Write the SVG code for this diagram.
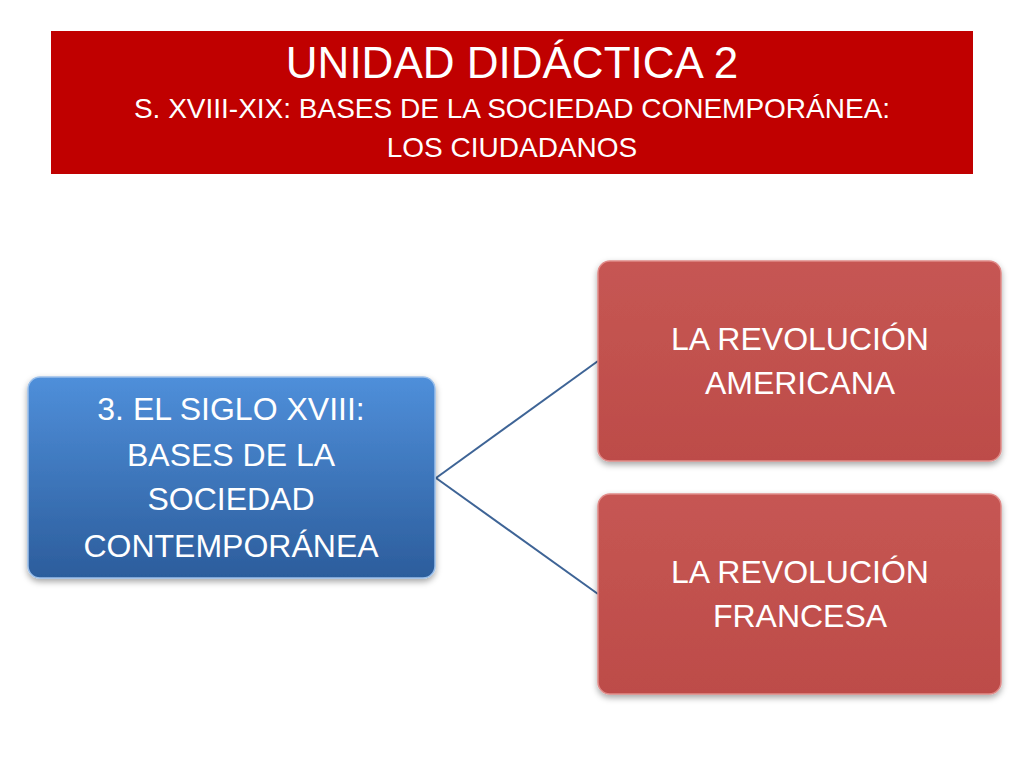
<svg xmlns="http://www.w3.org/2000/svg" width="1024" height="768" viewBox="0 0 1024 768">
<style>
.t{font-family:"Liberation Sans",Arial,sans-serif;fill:#fff;text-anchor:middle}
.n{font-size:32px}
</style>
<defs>
<linearGradient id="gb" x1="0" y1="0" x2="0" y2="1"><stop offset="0" stop-color="#4F8FDA"/><stop offset="1" stop-color="#2C5D9C"/></linearGradient>
<linearGradient id="gr" x1="0" y1="0" x2="0" y2="1"><stop offset="0" stop-color="#C65653"/><stop offset="1" stop-color="#BD4C49"/></linearGradient>
<filter id="sh" x="-10%" y="-10%" width="120%" height="130%"><feDropShadow dx="0" dy="3" stdDeviation="3" flood-color="#000" flood-opacity="0.35"/></filter>
</defs>
<rect width="1024" height="768" fill="#fff"/>
<g id="title">
<rect x="51" y="31" width="922" height="143" fill="#C00000"/>
<text class="t" x="512" y="78" font-size="44">UNIDAD DIDÁCTICA 2</text>
<text class="t" x="512" y="118" font-size="28">S. XVIII-XIX: BASES DE LA SOCIEDAD CONEMPORÁNEA:</text>
<text class="t" x="512" y="157" font-size="28">LOS CIUDADANOS</text>
</g>
<g id="connectors" stroke="#3E6496" stroke-width="2" fill="none">
<path d="M436 478 L598 361"/>
<path d="M436 478 L598 594"/>
</g>
<g id="n1">
<rect x="28" y="377" width="407" height="201" rx="12" fill="url(#gb)" stroke="#9CC0EA" stroke-width="1.5" filter="url(#sh)"/>
<text class="t n" x="231" y="420">3. EL SIGLO XVIII:</text>
<text class="t n" x="231" y="466">BASES DE LA</text>
<text class="t n" x="231" y="510">SOCIEDAD</text>
<text class="t n" x="231" y="557">CONTEMPORÁNEA</text>
</g>
<g id="n2">
<rect x="598" y="261" width="403" height="200" rx="12" fill="url(#gr)" stroke="#E08A88" stroke-width="1.5" filter="url(#sh)"/>
<text class="t n" x="800" y="350">LA REVOLUCIÓN</text>
<text class="t n" x="800" y="394">AMERICANA</text>
</g>
<g id="n3">
<rect x="598" y="494" width="403" height="200" rx="12" fill="url(#gr)" stroke="#E08A88" stroke-width="1.5" filter="url(#sh)"/>
<text class="t n" x="800" y="583">LA REVOLUCIÓN</text>
<text class="t n" x="800" y="627">FRANCESA</text>
</g>
</svg>
